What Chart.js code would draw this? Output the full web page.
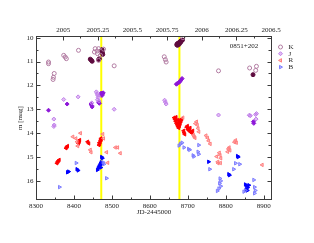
<!DOCTYPE html>
<html>
<head>
<meta charset="utf-8">
<script src="https://cdn.jsdelivr.net/npm/chart.js@4/dist/chart.umd.min.js"></script>
<style>
  html, body { margin: 0; padding: 0; background: #fff; }
</style>
</head>
<body>
<canvas id="lc" width="314" height="243"></canvas>
<script>
// light curves of 0851+202 (JD-2445000, magnitude)
const kLight = [[8333, 11.02], [8333, 11.09], [8345, 11.75], [8346, 11.66], [8348, 11.5],
  [8373, 10.74], [8377, 10.81], [8380, 10.88], [8412, 10.53],
  [8454, 10.6], [8456, 10.46], [8461, 10.56], [8462, 10.67], [8465, 10.46], [8470, 10.74], [8465, 10.95], [8478, 10.48],
  [8506, 11.18], [8638, 10.8], [8641, 10.92], [8643, 11.02], [8687, 10.0],
  [8781, 11.39], [8863, 11.27], [8879, 11.37], [8881, 11.2]];
const kDark = [[8443, 10.9], [8446, 10.95], [8448, 10.99], [8465, 10.92], [8467, 10.88],
  [8473, 10.55], [8474, 10.5], [8475, 10.62], [8476, 10.7],
  [8671, 10.3], [8672, 10.26], [8674, 10.24], [8676, 10.22], [8678, 10.2], [8680, 10.17], [8682, 10.14],
  [8684, 10.12], [8686, 10.1], [8673, 10.32], [8677, 10.28], [8681, 10.2], [8872, 11.55]];
const jLight = [[8347, 13.41], [8348, 13.66], [8347, 13.72], [8373, 12.59], [8411, 12.48],
  [8447, 12.73], [8459, 12.27], [8461, 12.35], [8463, 12.42], [8464, 12.5], [8462, 12.6], [8466, 12.66],
  [8506, 13.0], [8639, 12.62], [8641, 12.7], [8643, 12.78],
  [8781, 13.24], [8862, 13.25], [8865, 13.27], [8879, 13.22], [8881, 13.18], [8880, 13.41]];
const jDark = [[8333, 13.04], [8382, 12.78], [8445, 12.78], [8447, 12.85], [8448, 12.9],
  [8465, 12.7], [8467, 12.75], [8472, 12.32], [8473, 12.38], [8474, 12.42], [8476, 12.35], [8477, 12.31],
  [8670, 11.95], [8672, 11.92], [8675, 11.9], [8678, 11.86], [8680, 11.82], [8683, 11.76], [8685, 11.71],
  [8873, 13.52], [8874, 13.59]];
const rLight = [[8397, 14.15], [8405, 14.22], [8408, 14.36], [8410, 14.54], [8417, 14.0],
  [8443, 14.7], [8445, 14.8], [8476, 14.04], [8478, 14.22], [8486, 14.8], [8489, 15.24],
  [8509, 14.6], [8515, 14.6], [8522, 14.84], [8687, 13.35],
  [8715, 14.08], [8717, 14.15], [8719, 14.2], [8720, 13.6], [8723, 13.52], [8725, 13.66], [8727, 13.8], [8729, 13.94],
  [8748, 14.1], [8752, 14.2], [8755, 14.32], [8759, 14.45],
  [8776, 14.98], [8779, 15.2], [8783, 14.82], [8785, 14.92], [8787, 15.05], [8780, 15.26], [8786, 15.25],
  [8805, 14.78], [8807, 14.66], [8809, 14.6], [8811, 14.72], [8823, 14.38], [8826, 14.3], [8828, 14.4],
  [8896, 15.33]];
const rDark = [[8355, 15.26], [8357, 15.2], [8359, 15.16], [8361, 15.12],
  [8379, 14.63], [8381, 14.58], [8383, 14.54], [8412, 14.43], [8414, 14.36], [8415, 14.29],
  [8436, 14.36], [8439, 14.43],
  [8466, 14.5], [8468, 14.45], [8469, 14.38], [8470, 14.3], [8471, 14.22], [8472, 14.27], [8467, 14.4],
  [8664, 13.35], [8666, 13.42], [8668, 13.5], [8670, 13.58], [8672, 13.65], [8674, 13.72], [8676, 13.78],
  [8678, 13.7], [8680, 13.6], [8682, 13.5], [8684, 13.42], [8669, 13.33], [8673, 13.45], [8677, 13.55],
  [8675, 13.62], [8679, 13.45], [8689, 13.9], [8690, 13.98], [8692, 14.05],
  [8697, 13.75], [8699, 13.7], [8701, 13.8], [8703, 13.86], [8705, 13.92], [8708, 13.96], [8711, 14.0],
  [8700, 13.85], [8706, 13.78], [8713, 13.9]];
const bLight = [[8362, 16.26], [8406, 15.25], [8477, 15.22], [8479, 15.3], [8486, 15.89],
  [8677, 14.52], [8681, 14.45], [8685, 14.4], [8690, 14.6], [8702, 14.66], [8705, 14.7],
  [8714, 14.93], [8716, 14.98], [8729, 14.5], [8727, 14.78], [8729, 14.88], [8758, 15.51],
  [8785, 15.9], [8787, 16.0], [8784, 16.1], [8787, 16.22], [8782, 16.32], [8778, 16.42],
  [8821, 15.51], [8826, 15.26], [8837, 15.3], [8848, 16.45], [8852, 16.4],
  [8874, 15.96], [8876, 16.26], [8878, 16.4], [8876, 16.52]];
const bDark = [[8383, 15.64], [8386, 15.61], [8408, 15.51], [8411, 15.56],
  [8462, 15.54], [8464, 15.47], [8466, 15.4], [8468, 15.35], [8470, 15.28], [8472, 15.22], [8471, 15.44],
  [8473, 15.3], [8473, 15.0], [8475, 15.05], [8755, 15.2], [8808, 15.72], [8810, 15.76],
  [8831, 14.96], [8833, 15.0], [8852, 16.15], [8855, 16.2], [8858, 16.28], [8861, 16.18], [8854, 16.36], [8857, 16.4]];

const flareJD = [8472, 8678];
const jdTicks = [8300, 8400, 8500, 8600, 8700, 8800, 8900];
const yearTicks = [2005, 2005.25, 2005.5, 2005.75, 2006, 2006.25, 2006.5];
const magTicks = [10, 11, 12, 13, 14, 15, 16];

const jdMin = 8300, jdMax = 8922;
const magMin = 9.93, magMax = 16.8;
const jdYear2005 = 8371.5;
const toYear = jd => 2005 + (jd - jdYear2005) / 365.25;

const ink = '#222';
const font = { family: 'Liberation Serif', size: 7 };
const dot = 2;
const pts = arr => arr.map(([x, y]) => ({ x, y }));

function band(label, data, style, rot, fill, stroke, legend) {
  return {
    label, data: pts(data), pointStyle: style, pointRotation: rot,
    pointRadius: dot, pointBorderWidth: 1,
    backgroundColor: fill, borderColor: stroke, legend, order: 1,
  };
}

const datasets = [
  band('K', kLight, 'circle', 0, 'rgba(255,255,255,0)', '#b27ca2', true),
  band('J', jLight, 'rectRot', 0, 'rgba(196,120,236,0.5)', '#bf80e8', true),
  band('R', rLight, 'triangle', -90, 'rgba(255,120,120,0.5)', '#ff8080', true),
  band('B', bLight, 'triangle', 90, 'rgba(120,120,255,0.5)', '#7d7dff', true),
  band('K*', kDark, 'circle', 0, '#5e0b3e', '#5e0b3e', false),
  band('J*', jDark, 'rectRot', 0, '#8d17d8', '#8d17d8', false),
  band('R*', rDark, 'triangle', -90, '#ff0000', '#ff0000', false),
  band('B*', bDark, 'triangle', 90, '#0000ff', '#0000ff', false),
];
flareJD.forEach(jd => datasets.push({
  label: 'flare', data: [{ x: jd, y: magMin }, { x: jd, y: magMax }],
  showLine: true, borderColor: '#ffff00', borderWidth: 2, pointRadius: 0, order: 10,
}));

const mids = t => t.slice(1).map((v, i) => (v + t[i]) / 2);

const frame = {
  id: 'frame',
  afterDraw(chart) {
    const { ctx, chartArea: a, scales } = chart;
    const L = Math.round(a.left) + 0.5, R = Math.round(a.right) - 0.5;
    const T = Math.round(a.top) + 0.5, B = Math.round(a.bottom) - 0.5;
    ctx.save();
    ctx.strokeStyle = '#3a3a3a';
    ctx.lineWidth = 1;
    ctx.strokeRect(L, T, R - L, B - T);
    ctx.beginPath();
    const hx = (v, len, sc, y0, dir) => {
      const x = Math.round(sc.getPixelForValue(v)) + 0.5;
      ctx.moveTo(x, y0); ctx.lineTo(x, y0 + dir * len);
    };
    const vy = (v, len, x0, dir) => {
      const y = Math.round(scales.y.getPixelForValue(v)) + 0.5;
      ctx.moveTo(x0, y); ctx.lineTo(x0 + dir * len, y);
    };
    jdTicks.forEach(v => hx(v, 4, scales.x, B, -1));
    mids(jdTicks).forEach(v => hx(v, 2, scales.x, B, -1));
    yearTicks.forEach(v => hx(v, 4, scales.x2, T, 1));
    mids(yearTicks).forEach(v => hx(v, 2, scales.x2, T, 1));
    magTicks.forEach(v => { vy(v, 4, L, 1); vy(v, 4, R, -1); });
    mids(magTicks).forEach(v => { vy(v, 2, L, 1); vy(v, 3, R, -1); });
    ctx.stroke();

    // object name
    ctx.fillStyle = ink;
    ctx.font = '7px "Liberation Serif"';
    ctx.textAlign = 'center';
    ctx.textBaseline = 'middle';
    ctx.fillText('0851+202', 244, 46);

    // legend outside the frame
    const lx = R + 9, tx = R + 17;
    chart.data.datasets.filter(d => d.legend).forEach((d, i) => {
      const y = T + 10.5 + i * 6.7;
      ctx.fillStyle = d.backgroundColor;
      ctx.strokeStyle = d.borderColor;
      ctx.lineWidth = 1;
      Chart.helpers.drawPoint(ctx, { pointStyle: d.pointStyle, radius: dot, rotation: d.pointRotation, borderWidth: 1 }, lx, y);
      ctx.fillStyle = ink;
      ctx.textAlign = 'left';
      ctx.fillText(d.label, tx, y);
    });
    ctx.restore();
  }
};

new Chart(document.getElementById('lc'), {
  type: 'scatter',
  data: { datasets },
  options: {
    responsive: false,
    animation: false,
    layout: { padding: { right: 42 } },
    plugins: { legend: { display: false }, tooltip: { enabled: false } },
    scales: {
      x: {
        type: 'linear', position: 'bottom', min: jdMin, max: jdMax,
        afterBuildTicks: s => { s.ticks = jdTicks.map(v => ({ value: v })); },
        afterFit: s => { s.height = 43; },
        grid: { display: false, drawTicks: false },
        border: { display: false },
        ticks: { font, color: ink, padding: 1.5, maxRotation: 0, autoSkip: false, callback: v => String(v) },
        title: { display: true, text: 'JD-2445000', font, color: ink, padding: { top: 0, bottom: 27 } },
      },
      x2: {
        type: 'linear', position: 'top', min: toYear(jdMin), max: toYear(jdMax),
        afterBuildTicks: s => { s.ticks = yearTicks.map(v => ({ value: v })); },
        afterFit: s => { s.height = 36; },
        grid: { display: false, drawTicks: false },
        border: { display: false },
        ticks: { font, color: ink, padding: 1.5, maxRotation: 0, autoSkip: false, callback: v => String(v) },
      },
      y: {
        type: 'linear', reverse: true, min: magMin, max: magMax,
        afterBuildTicks: s => { s.ticks = magTicks.map(v => ({ value: v })); },
        afterFit: s => { s.width = 36; },
        grid: { display: false, drawTicks: false },
        border: { display: false },
        ticks: { font, color: ink, padding: 2.5, callback: v => String(v) },
        title: { display: true, text: 'm [mag]', font, color: ink, padding: { top: 16, bottom: 0 } },
      },
    },
  },
  plugins: [frame],
});
</script>
</body>
</html>
